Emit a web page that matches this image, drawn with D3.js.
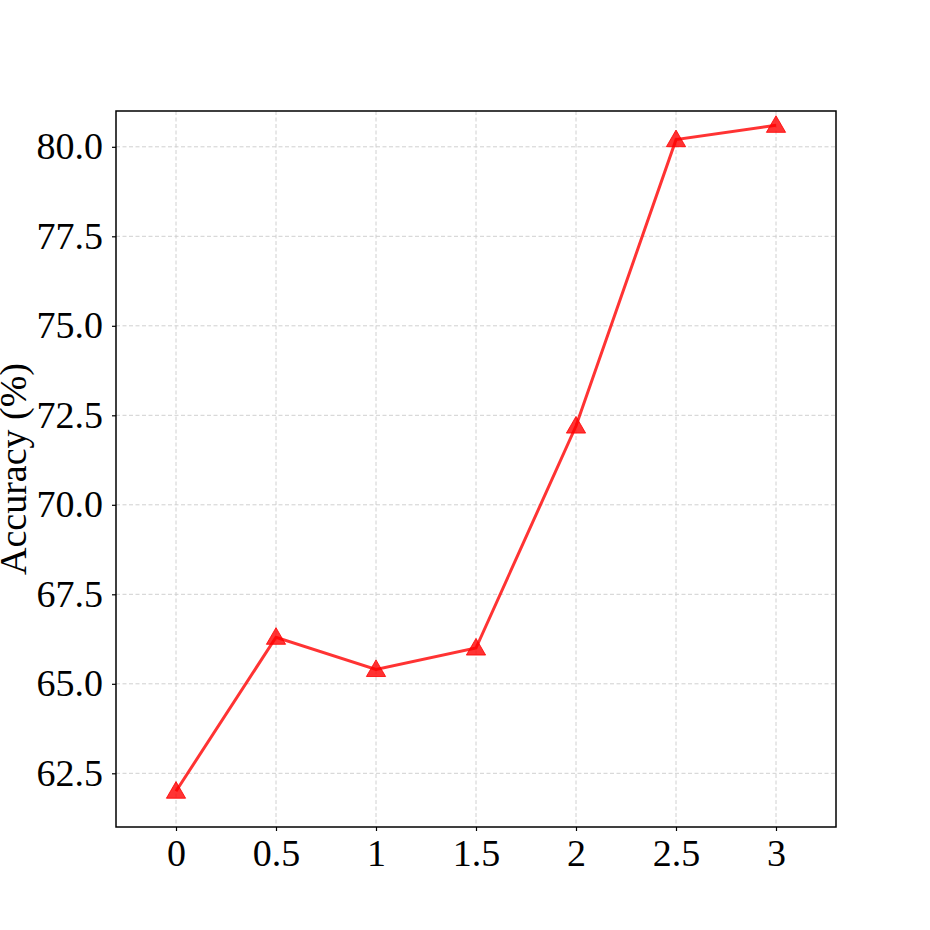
<!DOCTYPE html>
<html lang="en">
  <head>
    <meta charset="utf-8">
    <title>Accuracy line chart</title>
    <script src="https://cdn.jsdelivr.net/npm/d3@7"></script>
    <style>
      body { margin: 0; background: white; }
      text { font-family: "Liberation Serif", "Times New Roman", serif; }
    </style>
  </head>
  <body>
    <div id="chart-area"></div>
    <script>
      // data
      const x_values = [0, 0.5, 1, 1.5, 2, 2.5, 3];
      const accuracy = [62.0, 66.3, 65.4, 66.0, 72.2, 80.2, 80.6];
      const x_ticks = [0, 0.5, 1, 1.5, 2, 2.5, 3];
      const y_ticks = [62.5, 65.0, 67.5, 70.0, 72.5, 75.0, 77.5, 80.0];

      const svg_width = 930;
      const svg_height = 930;
      const margin = {left: 116, right: 94, top: 111, bottom: 103};
      const line_color = 'rgba(255,0,0,0.8)';
      const font_size = '38px';

      const x_scale = d3.scaleLinear()
        .domain([-0.3, 3.3])
        .range([margin.left, svg_width - margin.right]);
      const y_scale = d3.scaleLinear()
        .domain([61.0, 81.0])
        .range([svg_height - margin.bottom, margin.top]);

      const svg = d3.select('#chart-area')
        .append('svg')
        .attr('width', svg_width)
        .attr('height', svg_height);

      //dashed grid
      const grid = svg.append('g');
      grid.selectAll('.vgrid')
        .data(x_ticks)
        .enter()
        .append('line')
        .attr('x1', d => x_scale(d))
        .attr('x2', d => x_scale(d))
        .attr('y1', margin.top)
        .attr('y2', svg_height - margin.bottom);
      grid.selectAll('.hgrid')
        .data(y_ticks)
        .enter()
        .append('line')
        .attr('x1', margin.left)
        .attr('x2', svg_width - margin.right)
        .attr('y1', d => y_scale(d))
        .attr('y2', d => y_scale(d));
      grid.selectAll('line')
        .attr('stroke', '#d0d0d0')
        .attr('stroke-width', 1)
        .attr('stroke-dasharray', '4,2.5');

      //axes
      const x_axis = d3.axisBottom(x_scale)
        .tickValues(x_ticks)
        .tickFormat(d3.format('~g'))
        .tickSize(4)
        .tickPadding(8);
      const y_axis = d3.axisLeft(y_scale)
        .tickValues(y_ticks)
        .tickFormat(d3.format('.1f'))
        .tickSize(4)
        .tickPadding(9);

      svg.append('g')
        .attr('transform', `translate(0,${svg_height - margin.bottom})`)
        .call(x_axis)
        .call(g => g.select('.domain').remove());
      svg.append('g')
        .attr('transform', `translate(${margin.left},0)`)
        .call(y_axis)
        .call(g => g.select('.domain').remove());
      svg.selectAll('.tick text')
        .attr('font-family', '"Liberation Serif", "Times New Roman", serif')
        .attr('font-size', font_size)
        .attr('fill', 'black');
      svg.selectAll('.tick line')
        .attr('stroke', 'black')
        .attr('stroke-width', 1.2);

      //frame
      svg.append('rect')
        .attr('x', margin.left)
        .attr('y', margin.top)
        .attr('width', svg_width - margin.left - margin.right)
        .attr('height', svg_height - margin.top - margin.bottom)
        .attr('fill', 'none')
        .attr('stroke', 'black')
        .attr('stroke-width', 1.5);

      //y label
      svg.append('text')
        .attr('transform', `translate(26,${(margin.top + svg_height - margin.bottom) / 2}) rotate(-90)`)
        .attr('text-anchor', 'middle')
        .attr('font-size', font_size)
        .attr('fill', 'black')
        .text('Accuracy (%)');

      //line + triangle markers
      const points = x_values.map((x, i) => [x, accuracy[i]]);
      const line = d3.line()
        .x(d => x_scale(d[0]))
        .y(d => y_scale(d[1]));
      svg.append('path')
        .datum(points)
        .attr('d', line)
        .attr('fill', 'none')
        .attr('stroke', line_color)
        .attr('stroke-width', 3);

      const tri = d3.symbol().type(d3.symbolTriangle).size(160);
      svg.selectAll('.marker')
        .data(points)
        .enter()
        .append('path')
        .attr('class', 'marker')
        .attr('d', tri)
        .attr('transform', d => `translate(${x_scale(d[0])},${y_scale(d[1]) + 1.5})`)
        .attr('fill', line_color)
        .attr('stroke', line_color)
        .attr('stroke-width', 1);
    </script>
  </body>
</html>
